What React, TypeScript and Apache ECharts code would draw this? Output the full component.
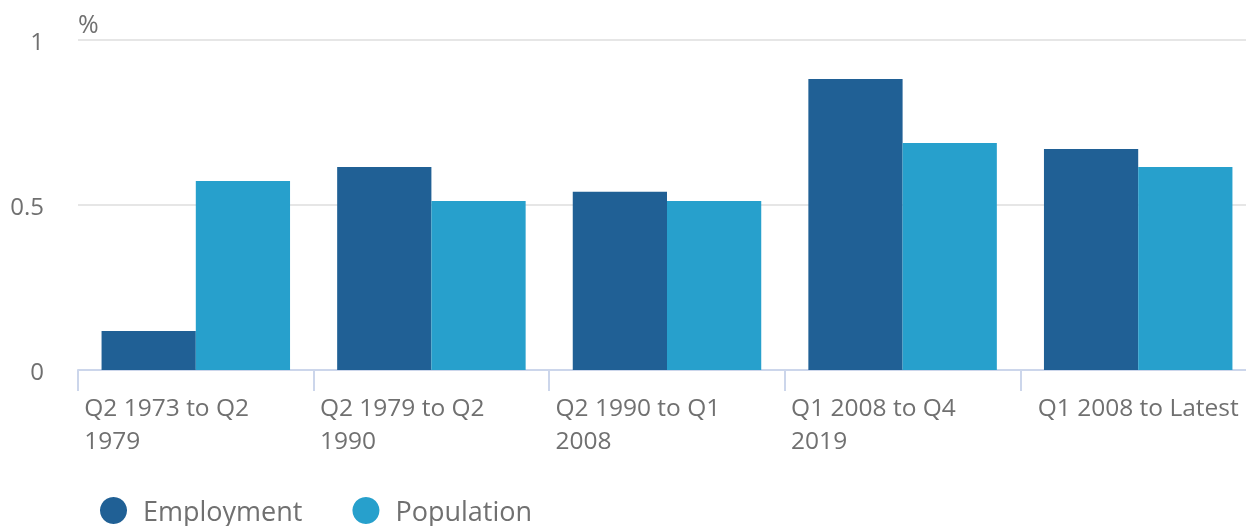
import React, { useEffect, useRef } from "react";
import * as echarts from "echarts";

const categories = [
  "Q2 1973 to Q2\n1979",
  "Q2 1979 to Q2\n1990",
  "Q2 1990 to Q1\n2008",
  "Q1 2008 to Q4\n2019",
  "Q1 2008 to Latest",
];
const employment = [0.118, 0.615, 0.54, 0.882, 0.67];
const population = [0.573, 0.512, 0.512, 0.688, 0.615];
const yTicks = { min: 0, max: 1, interval: 0.5 };

const FONT = "'Open Sans', sans-serif";
const GREY = "#707070";

export default function App() {
  const ref = useRef<HTMLDivElement>(null);
  useEffect(() => {
    if (!ref.current) return;
    const chart = echarts.init(ref.current, null, { renderer: "svg" });
    chart.setOption({
      animation: false,
      textStyle: { fontFamily: FONT },
      grid: {
        left: 78,
        top: 40,
        width: 1178,
        height: 330,
        containLabel: false,
        outerBoundsMode: "none",
      },
      legend: {
        left: 95,
        top: 492,
        icon: "circle",
        itemWidth: 27,
        itemHeight: 27,
        itemGap: 50,
        textStyle: { fontFamily: FONT, fontSize: 27, color: GREY, padding: [0, 0, 0, 11] },
        data: ["Employment", "Population"],
      },
      xAxis: {
        type: "category",
        data: categories,
        axisLine: { show: true, lineStyle: { color: "#ccd6eb", width: 2 } },
        axisTick: { show: true, interval: 0, length: 21, lineStyle: { color: "#ccd6eb", width: 2 } },
        axisLabel: {
          interval: 0,
          margin: 20,
          width: 223,
          align: "center",
          formatter: (v: string) => (v.indexOf("\n") >= 0 ? `{a|${v}}` : `{b|${v}}`),
          rich: {
            a: { fontFamily: FONT, fontSize: 24.5, lineHeight: 33, color: GREY, align: "left" },
            b: { fontFamily: FONT, fontSize: 24.5, lineHeight: 33, color: GREY, align: "center" },
          },
        },
      },
      yAxis: {
        type: "value",
        min: yTicks.min,
        max: yTicks.max,
        interval: yTicks.interval,
        name: "%",
        nameLocation: "end",
        nameGap: 5,
        nameTextStyle: { fontFamily: FONT, fontSize: 25, color: GREY, align: "left", verticalAlign: "bottom" },
        axisLine: { show: false },
        axisTick: { show: false },
        splitLine: { lineStyle: { color: "#e6e6e6", width: 2 } },
        axisLabel: { margin: 34, fontFamily: FONT, fontSize: 24, color: GREY },
      },
      series: [
        {
          name: "Employment",
          type: "bar",
          data: employment,
          itemStyle: { color: "#206095" },
          barCategoryGap: "20%",
          barGap: "0%",
        },
        {
          name: "Population",
          type: "bar",
          data: population,
          itemStyle: { color: "#27a0cc" },
          barCategoryGap: "20%",
          barGap: "0%",
        },
      ],
    });
    return () => chart.dispose();
  }, []);
  return (
    <div
      ref={ref}
      style={{ position: "fixed", left: 0, top: 0, width: 1246, height: 526 }}
    />
  );
}
